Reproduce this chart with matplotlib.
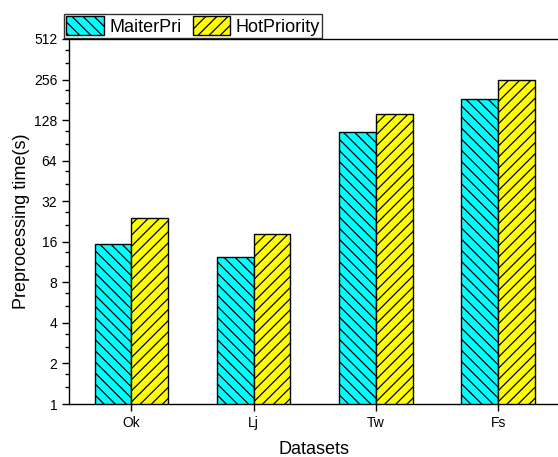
import numpy as np
import matplotlib
matplotlib.use("Agg")
import matplotlib.pyplot as plt
from matplotlib.ticker import NullFormatter

plt.rcParams["font.family"] = ["Liberation Sans", "DejaVu Sans"]
plt.rcParams["hatch.linewidth"] = 0.9

datasets = ["Ok", "Lj", "Tw", "Fs"]
maiterpri = [15.5, 12.4, 105, 185]
hotpriority = [23.9, 18.3, 143, 252]
yticks = [1, 2, 4, 8, 16, 32, 64, 128, 256, 512]

fig = plt.figure(figsize=(5.58, 4.57), dpi=100)
ax = fig.add_axes([69 / 558, 53 / 457, 489 / 558, 365 / 457])

x = np.arange(len(datasets))
w = 0.3
ax.bar(x - w / 2, maiterpri, w, color="#00ffff", edgecolor="black",
       linewidth=1.0, hatch="\\\\\\", label="MaiterPri")
ax.bar(x + w / 2, hotpriority, w, color="#ffff00", edgecolor="black",
       linewidth=1.0, hatch="///", label="HotPriority")

ax.set_yscale("log", base=2)
ax.set_ylim(1, 512)
ax.set_yticks(yticks)
ax.set_yticklabels([str(t) for t in yticks])
minor = []
for t in yticks[:-1]:
    minor += [t * (1 + 1 / 3), t * (1 + 2 / 3)]
ax.set_yticks(minor, minor=True)
ax.yaxis.set_minor_formatter(NullFormatter())
ax.set_xticks(x)
ax.set_xticklabels(datasets)
ax.set_xlim(-0.51, 3.49)

ax.tick_params(axis="both", which="major", labelsize=10, length=5, width=1)
ax.tick_params(axis="y", which="minor", length=3, width=1)
ax.spines["right"].set_visible(False)
for s in ["left", "bottom", "top"]:
    ax.spines[s].set_linewidth(1.0)

ax.set_xlabel("Datasets", fontsize=13, labelpad=8)
ax.set_ylabel("Preprocessing time(s)", fontsize=13, labelpad=3)

leg = fig.legend(loc="lower left", bbox_to_anchor=(64 / 558, 419 / 457),
                 ncol=2, fontsize=13, frameon=True, fancybox=False,
                 borderaxespad=0, borderpad=0.12, handlelength=2.1,
                 handleheight=1.25, handletextpad=0.3, columnspacing=0.6)
leg.get_frame().set_edgecolor("black")
leg.get_frame().set_linewidth(1.0)

fig.savefig("out.png", dpi=100)
